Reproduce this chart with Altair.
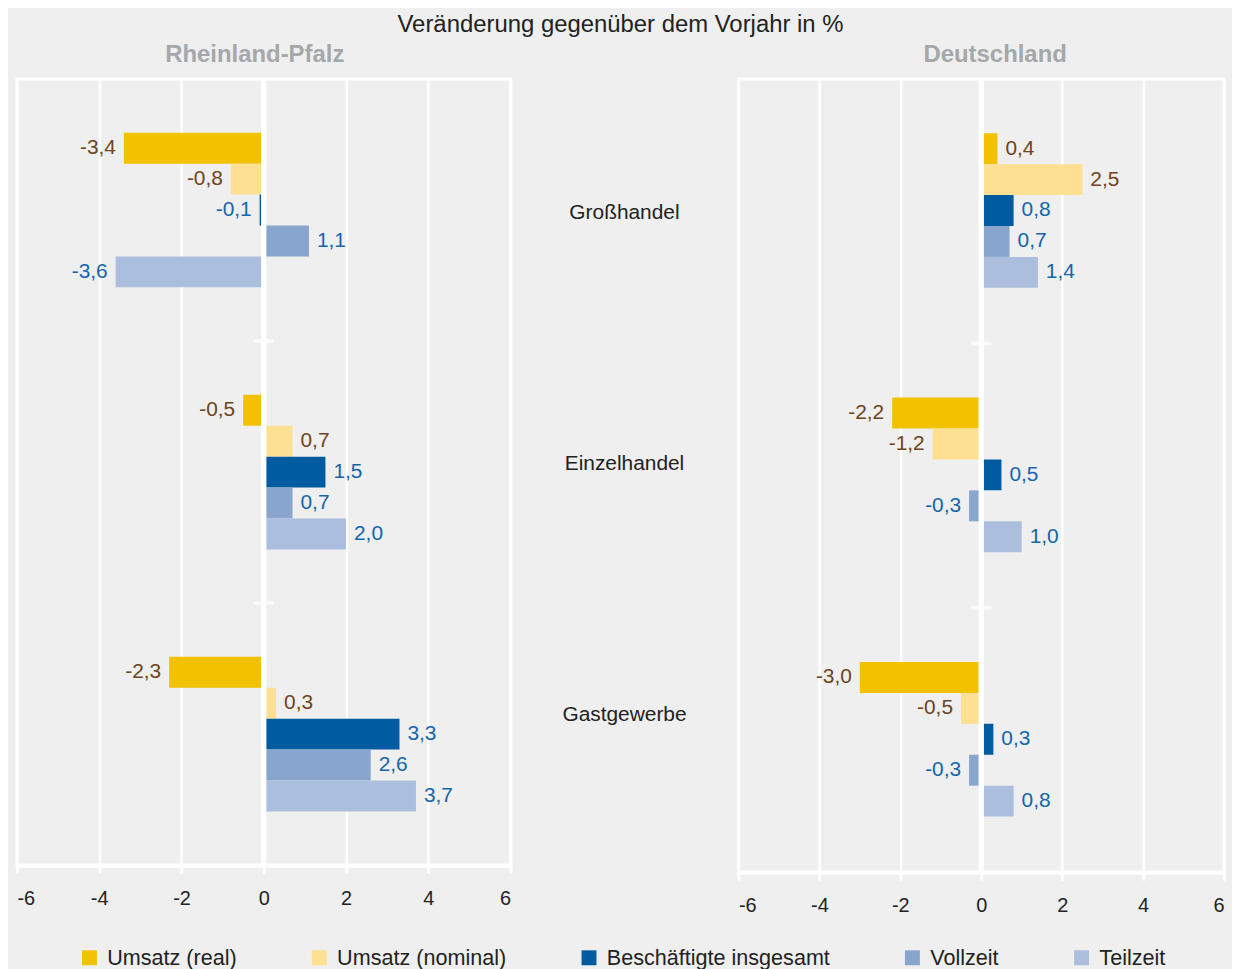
import altair as alt
import pandas as pd

F = "Liberation Sans"

categories = ["Großhandel", "Einzelhandel", "Gastgewerbe"]
series = ["Umsatz (real)", "Umsatz (nominal)", "Beschäftigte insgesamt", "Vollzeit", "Teilzeit"]

rlp_grosshandel = [-3.4, -0.8, -0.1, 1.1, -3.6]
rlp_einzelhandel = [-0.5, 0.7, 1.5, 0.7, 2.0]
rlp_gastgewerbe = [-2.3, 0.3, 3.3, 2.6, 3.7]

de_grosshandel = [0.4, 2.5, 0.8, 0.7, 1.4]
de_einzelhandel = [-2.2, -1.2, 0.5, -0.3, 1.0]
de_gastgewerbe = [-3.0, -0.5, 0.3, -0.3, 0.8]

x_ticks = [-6, -4, -2, 0, 2, 4, 6]

bar_colors = ["#F2C100", "#FDE091", "#005BA1", "#88A5CE", "#ABBEDD"]
brown = "#6F4420"
blue = "#1565AC"
bg = "#EEEFEE"

PI = 0.41  # inner padding of category bands


def build(rows):
    recs = []
    for cat, vals in zip(categories, rows):
        for s, v in zip(series, vals):
            recs.append({"cat": cat, "series": s, "value": v})
    return pd.DataFrame(recs)


rlp_df = build([rlp_grosshandel, rlp_einzelhandel, rlp_gastgewerbe])
de_df = build([de_grosshandel, de_einzelhandel, de_gastgewerbe])
sep_df = pd.DataFrame({"cat": categories[:-1]})

label_expr = "(datum.value < 0 ? '-' : '') + replace(format(abs(datum.value), '.1f'), '.', ',')"
umsatz_test = "datum.series == 'Umsatz (real)' || datum.series == 'Umsatz (nominal)'"

legend = alt.Legend(
    orient="none", legendX=62, legendY=872, direction="horizontal", title=None,
    symbolType="square", symbolSize=225, symbolStrokeWidth=0,
    labelFontSize=21.7, labelFont=F, labelColor="#222222", labelLimit=0,
    columnPadding=72, labelOffset=7, padding=0,
)


def panel(df, title, w, h, dx):
    step = h / 3
    yscale = alt.Scale(domain=categories, paddingInner=PI, paddingOuter=PI / 2)
    y = alt.Y("cat:N", sort=categories, axis=None, scale=yscale)
    yoff = alt.YOffset("series:N", sort=series,
                       scale=alt.Scale(domain=series, paddingInner=0, paddingOuter=0))
    x = alt.X("value:Q", title=None,
              scale=alt.Scale(domain=[-6, 6], nice=False, zero=False),
              axis=alt.Axis(values=x_ticks, labelExpr="toString(datum.value)",
                            grid=True, gridColor="white", gridWidth=2.5,
                            domainColor="white", domainWidth=4,
                            tickColor="white", tickWidth=3, tickSize=7, tickCap="round",
                            labelFontSize=20, labelFont=F, labelColor="#222222",
                            labelPadding=17))
    base = alt.Chart(df).transform_calculate(label=label_expr)
    bars = base.mark_bar().encode(
        x=x, y=y, yOffset=yoff,
        color=alt.Color("series:N", sort=series,
                        scale=alt.Scale(domain=series, range=bar_colors),
                        legend=legend),
    )
    zero = alt.Chart(sep_df).mark_rule(color="white", strokeWidth=5).encode(x=alt.datum(0))
    seps = alt.Chart(sep_df).mark_tick(
        color="white", thickness=4, size=21, orient="horizontal", cornerRadius=2,
        yOffset=step * PI / 2,
    ).encode(
        x=alt.datum(0),
        y=alt.Y("cat:N", sort=categories, bandPosition=1, axis=None, scale=yscale),
    )

    def txt(test, align, dx_, col):
        return base.transform_filter(test).mark_text(
            align=align, dx=dx_, baseline="middle", fontSize=21, font=F, color=col
        ).encode(x=x, y=y, yOffset=yoff, text="label:N")

    texts = [
        txt(f"({umsatz_test}) && datum.value >= 0", "left", 8, brown),
        txt(f"({umsatz_test}) && datum.value < 0", "right", -8, brown),
        txt(f"!({umsatz_test}) && datum.value >= 0", "left", 8, blue),
        txt(f"!({umsatz_test}) && datum.value < 0", "right", -8, blue),
    ]
    return alt.layer(bars, zero, seps, *texts).properties(
        width=w, height=h,
        title=alt.TitleParams(title, fontSize=24, fontWeight="bold", color="#A5A8AA",
                              font=F, dx=dx, offset=10, anchor="middle"),
    )


left = panel(rlp_df, "Rheinland-Pfalz", 496, 790, -9)
right = panel(de_df, "Deutschland", 488, 797, 14)

mid = alt.Chart(pd.DataFrame({"cat": categories})).mark_text(
    fontSize=21, font=F, color="#222222", baseline="middle"
).encode(
    y=alt.Y("cat:N", sort=categories, axis=None,
            scale=alt.Scale(range=[8, 765], paddingInner=0, paddingOuter=0)),
    text="cat:N",
).properties(width=229, height=790, view=alt.ViewBackground(stroke="transparent"))

chart = alt.hconcat(left, mid, right, spacing=0, bounds="flush").resolve_scale(
    color="shared"
).properties(
    title=alt.TitleParams("Veränderung gegenüber dem Vorjahr in %", fontSize=24, font=F,
                          fontWeight="normal", color="#222222", anchor="middle", offset=4),
    padding={"left": 6, "top": 3, "right": 5, "bottom": 5},
).configure(background=bg, font=F).configure_view(stroke="white", strokeWidth=3)

chart.save("out.html", embed_options={"renderer": "svg", "actions": False})
